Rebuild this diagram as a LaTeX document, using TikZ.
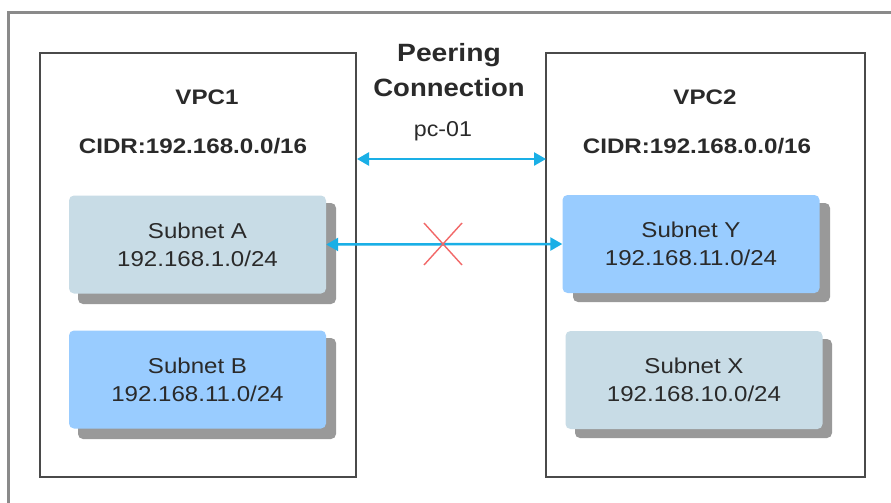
\documentclass[tikz,border=0pt]{standalone}
\usepackage{fontspec}
\usepackage{graphicx}
\setmainfont{Liberation Sans}
\usetikzlibrary{arrows.meta,calc}
\definecolor{framegray}{HTML}{8A8A8A}
\definecolor{vpcgray}{HTML}{4A4A4A}
\definecolor{paleblue}{HTML}{C8DCE6}
\definecolor{brightblue}{HTML}{99CCFF}
\definecolor{shadowgray}{HTML}{999999}
\definecolor{linkcyan}{HTML}{1AAFE6}
\definecolor{crossred}{HTML}{F26868}
\definecolor{txt}{HTML}{2A2A2A}
\newcommand{\wideR}[1]{\scalebox{1.12}[1]{#1}}
\newcommand{\wideB}[1]{\scalebox{1.15}[1]{#1}}
\tikzset{
  vpcbox/.style={draw=vpcgray, line width=2pt},
  subnet/.style={rounded corners=5pt, minimum width=257pt, minimum height=98pt, align=center, text=txt,
    font=\fontsize{21.5}{28}\selectfont, inner sep=0pt},
  boldlabel/.style={font=\fontsize{21}{35}\selectfont\bfseries, text=txt, align=center, inner sep=0pt},
  link/.style={draw=linkcyan, line width=2.5pt, {Triangle[length=12pt,width=13pt]}-{Triangle[length=12pt,width=13pt]}},
}
\begin{document}
\begin{tikzpicture}[x=1pt,y=-1pt]
\useasboundingbox (0,0) rectangle (891,503);
\clip (0,0) rectangle (891,503);
\fill[white] (0,0) rectangle (891,503);
% outer frame
\draw[draw=framegray, line width=3pt] (8,520) -- (8,13) -- (900,13);
% VPC boxes
\draw[vpcbox] (40,53) rectangle (356,477);
\draw[vpcbox] (546,53) rectangle (865,477);
\node[boldlabel] (vpc1) at (207,97) {\wideB{VPC1}};
\node[boldlabel] (cidr1) at (193,146) {\wideB{CIDR:192.168.0.0/16}};
\node[boldlabel] (vpc2) at (705,97) {\wideB{VPC2}};
\node[boldlabel] (cidr2) at (697,146) {\wideB{CIDR:192.168.0.0/16}};
\node[boldlabel, font=\fontsize{25}{35}\selectfont\bfseries] (peer) at (449,70)
  {\scalebox{1.13}[1]{Peering}\\\scalebox{1.1}[1]{Connection}};
% shadows
\fill[shadowgray, rounded corners=5pt] (78,203) rectangle (336,304);
\fill[shadowgray, rounded corners=5pt] (78,338) rectangle (336,439);
\fill[shadowgray, rounded corners=5pt] (573,203) rectangle (830,302);
\fill[shadowgray, rounded corners=5pt] (575,339) rectangle (832,438);
% subnets
\node[subnet, fill=paleblue] (sa) at (197.5,244.5) {\wideR{Subnet A}\\\wideR{192.168.1.0/24}};
\node[subnet, fill=brightblue] (sb) at (197.5,379.5) {\wideR{Subnet B}\\\wideR{192.168.11.0/24}};
\node[subnet, fill=brightblue] (sy) at (691,244) {\wideR{Subnet Y}\\\wideR{192.168.11.0/24}};
\node[subnet, fill=paleblue] (sx) at (694,380) {\wideR{Subnet X}\\\wideR{192.168.10.0/24}};
% peering arrow
\coordinate (pl) at (357,159);
\coordinate (pr) at (546,159);
\draw[link] (pl) -- (pr);
\node[text=txt, font=\fontsize{21.5}{25}\selectfont, inner sep=0pt] (pc) at (443,131) {\scalebox{1.08}[1]{pc-01}};
% blocked arrow
\draw[link] (sa.east) -- (sy.west);
\coordinate (xc) at (443,244);
\draw[crossred, line width=1.4pt] ($(xc)+(-19,-21)$) -- ($(xc)+(19,21)$);
\draw[crossred, line width=1.4pt] ($(xc)+(19,-21)$) -- ($(xc)+(-19,21)$);
\end{tikzpicture}
\end{document}
